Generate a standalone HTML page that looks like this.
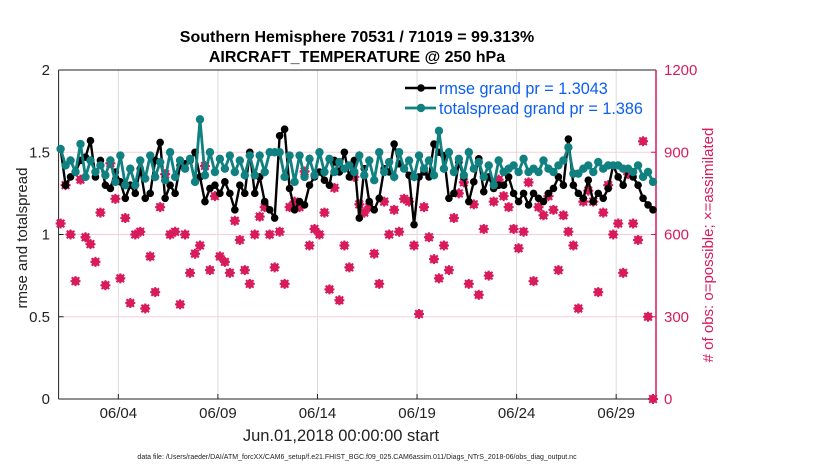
<!DOCTYPE html>
<html><head><meta charset="utf-8"><style>
body{margin:0;background:#fff;width:830px;height:470px;overflow:hidden;font-family:"Liberation Sans",sans-serif}
</style></head><body>
<svg id="chart" width="830" height="470" xmlns="http://www.w3.org/2000/svg" font-family="Liberation Sans, sans-serif"></svg>
<script>
const dateTicks=["06/04","06/09","06/14","06/19","06/24","06/29"];
const dateTickDays=[3,8,13,18,23,28];
const leftTicks=[0,0.5,1,1.5,2];
const rightTicks=[0,300,600,900,1200];
const rmse=[1.52,1.30,1.35,1.38,1.45,1.47,1.57,1.35,1.45,1.30,
1.28,1.38,1.32,1.22,1.30,1.25,1.40,1.22,1.25,1.45,
1.56,1.22,1.30,1.25,1.42,1.43,1.45,1.50,1.35,1.20,
1.28,1.30,1.25,1.32,1.25,1.15,1.30,1.25,1.50,1.25,
1.35,1.20,1.15,1.10,1.60,1.64,1.28,1.15,1.20,1.18,
1.30,1.35,1.38,1.33,1.30,1.45,1.38,1.50,1.35,1.45,
1.10,1.40,1.20,1.15,1.22,1.40,1.38,1.55,1.43,1.40,
1.36,1.06,1.35,1.38,1.35,1.55,1.50,1.48,1.22,1.25,
1.44,1.35,1.20,1.32,1.46,1.26,1.35,1.28,1.30,1.30,
1.35,1.25,1.20,1.25,1.18,1.25,1.22,1.20,1.25,1.28,
1.35,1.30,1.58,1.30,1.25,1.22,1.33,1.20,1.25,1.22,
1.28,1.42,1.35,1.30,1.40,1.35,1.30,1.22,1.18,1.15];
const spread=[1.52,1.42,1.45,1.38,1.55,1.35,1.45,1.38,1.42,1.36,
1.45,1.32,1.48,1.30,1.40,1.30,1.45,1.34,1.48,1.35,
1.44,1.33,1.50,1.35,1.45,1.40,1.46,1.32,1.70,1.36,
1.50,1.38,1.46,1.40,1.48,1.38,1.45,1.36,1.48,1.36,
1.48,1.38,1.50,1.50,1.50,1.35,1.48,1.32,1.48,1.35,
1.46,1.36,1.50,1.38,1.46,1.38,1.44,1.40,1.42,1.38,
1.48,1.36,1.45,1.33,1.50,1.38,1.44,1.35,1.50,1.40,
1.45,1.35,1.48,1.40,1.45,1.36,1.63,1.40,1.50,1.38,
1.46,1.36,1.50,1.40,1.44,1.35,1.42,1.30,1.45,1.38,
1.40,1.42,1.38,1.46,1.38,1.40,1.38,1.45,1.40,1.38,
1.42,1.45,1.53,1.37,1.37,1.40,1.42,1.38,1.44,1.40,
1.42,1.42,1.42,1.40,1.40,1.38,1.42,1.35,1.38,1.32];
const obs=[640,780,600,430,800,590,565,500,680,415,
860,730,440,660,350,600,610,330,520,390,
700,820,600,610,345,600,460,530,560,850,
470,740,520,500,460,650,580,470,420,600,
665,700,600,480,610,420,700,720,700,830,
560,620,600,680,400,770,360,560,480,810,
710,680,700,530,420,720,600,690,610,730,
720,560,310,700,590,510,440,560,470,660,
750,790,420,710,380,620,450,720,800,740,
700,620,550,610,790,430,700,670,740,690,
470,670,610,560,330,720,760,720,390,680,
780,600,640,460,820,640,580,940,300,0];
const X0=58.6,X1=656,Y0=399,Y1=70;
const xs=d=>X0+(X1-X0)*d/30;
const yl=v=>Y0-(Y0-Y1)*v/2;
const yr=v=>Y0-(Y0-Y1)*v/1200;
const svg=document.getElementById('chart');
const NS="http://www.w3.org/2000/svg";
function mk(tag,attrs,parent){const e=document.createElementNS(NS,tag);for(const k in attrs)e.setAttribute(k,attrs[k]);(parent||svg).appendChild(e);return e;}
function txt(s,attrs){const e=mk('text',attrs);e.textContent=s;return e;}
const pink="#d81b5c";
dateTickDays.forEach((d,i)=>{const l=mk('line',{x1:xs(d),x2:xs(d),y1:Y1,y2:Y0,stroke:'#dcdcdc','stroke-width':1});


mk('line',{x1:xs(d),x2:xs(d),y1:Y0-5,y2:Y0,stroke:'#222'});
const t=txt(dateTicks[i],{x:xs(d),y:418,'text-anchor':'middle','font-size':15,fill:'#222'});

});
rightTicks.forEach(v=>{if(v>0&&v<1200){const l=mk('line',{x1:X0,x2:X1,y1:yr(v),y2:yr(v),stroke:'#f6cfdc','stroke-width':1});

}
const t=txt(String(v),{x:X1+8,y:yr(v)+5,'font-size':15,fill:pink});


mk('line',{x1:X1-5,x2:X1,y1:yr(v),y2:yr(v),stroke:pink});});
leftTicks.forEach(v=>{const t=txt(String(v),{x:50,y:yl(v)+5,'text-anchor':'end','font-size':15,fill:'#222'});


mk('line',{x1:X0,x2:X0+5,y1:yl(v),y2:yl(v),stroke:'#222'});});
mk('line',{x1:X0,x2:X1,y1:Y1,y2:Y1,stroke:'#222'});
mk('line',{x1:X0,x2:X1,y1:Y0,y2:Y0,stroke:'#222'});
mk('line',{x1:X0,x2:X0,y1:Y1,y2:Y0,stroke:'#222'});
mk('line',{x1:X1,x2:X1,y1:Y1,y2:Y0,stroke:pink,'stroke-width':1.5});
const gObs=mk('g',{});


obs.forEach((v,i)=>{const x=xs(i*0.25+0.1),y=yr(v);
const g=mk('g',{},gObs);


mk('circle',{cx:x,cy:y,r:3.2,fill:'none',stroke:pink,'stroke-width':1.8},g);
mk('path',{d:`M${x-5} ${y}H${x+5}M${x} ${y-5}V${y+5}M${x-3.8} ${y-3.8}L${x+3.8} ${y+3.8}M${x-3.8} ${y+3.8}L${x+3.8} ${y-3.8}`,stroke:pink,'stroke-width':2},g);});
function series(arr,color,r,w,name){const g=mk('g',{});


mk('polyline',{points:arr.map((v,i)=>xs(i*0.25+0.1)+','+yl(v)).join(' '),fill:'none',stroke:color,'stroke-width':w},g);
arr.forEach((v,i)=>{const c=mk('circle',{cx:xs(i*0.25+0.1),cy:yl(v),r:r,fill:color},g);

});}
series(rmse,'#000',3.8,2.4,'rmse-series');
series(spread,'#108080',4.2,2.8,'totalspread-series');
const lg=mk('g',{});


mk('line',{x1:405,x2:436,y1:88,y2:88,stroke:'#000','stroke-width':2.4},lg);
mk('circle',{cx:421,cy:88,r:3.8,fill:'#000'},lg);
mk('line',{x1:405,x2:436,y1:108,y2:108,stroke:'#108080','stroke-width':2.8},lg);
mk('circle',{cx:421,cy:108,r:4.2,fill:'#108080'},lg);
const l1=txt('rmse grand pr = 1.3043',{x:439,y:94,'font-size':16.2,fill:'#0b5ef0'});


const l2=txt('totalspread grand pr = 1.386',{x:439,y:114,'font-size':16.2,fill:'#0b5ef0'});


const t1=txt('Southern Hemisphere 70531 / 71019 = 99.313%',{x:357,y:42,'text-anchor':'middle','font-size':16,'font-weight':'bold',fill:'#000'});


const t2=txt('AIRCRAFT_TEMPERATURE @ 250 hPa',{x:357,y:62,'text-anchor':'middle','font-size':16,'font-weight':'bold',fill:'#000'});


const xl=txt('Jun.01,2018 00:00:00 start',{x:341,y:441,'text-anchor':'middle','font-size':16.5,fill:'#222'});


const yL=txt('rmse and totalspread',{x:0,y:0,'text-anchor':'middle','font-size':15,fill:'#222',transform:'translate(27,238) rotate(-90)'});


const yR=txt('# of obs: o=possible; \u00d7=assimilated',{x:0,y:0,'text-anchor':'middle','font-size':15,fill:pink,transform:'translate(713,245) rotate(-90)'});


const ft=txt('data file: /Users/raeder/DAI/ATM_forcXX/CAM6_setup/f.e21.FHIST_BGC.f09_025.CAM6assim.011/Diags_NTrS_2018-06/obs_diag_output.nc',{x:357,y:459,'text-anchor':'middle','font-size':7,fill:'#222'});


</script>
</body></html>
